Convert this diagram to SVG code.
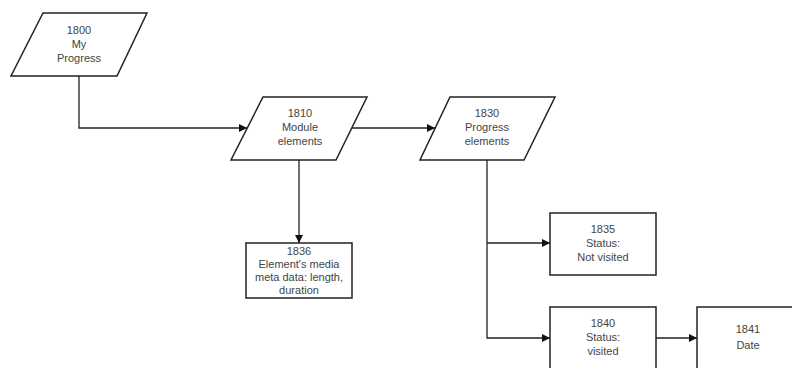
<svg xmlns="http://www.w3.org/2000/svg" width="792" height="368" viewBox="0 0 792 368">
<style>
.shape{fill:#fff;stroke:#222;stroke-width:1.5}
.conn{fill:none;stroke:#222;stroke-width:1.3}
text{font-family:"Liberation Sans",Arial,sans-serif;font-size:11px;fill:#444;text-anchor:middle}
</style>
<defs>
<marker id="arr" viewBox="0 0 10 10" refX="10" refY="5" markerWidth="8" markerHeight="8" markerUnits="userSpaceOnUse" orient="auto">
<path d="M0,0 L10,5 L0,10 z" fill="#111"/>
</marker>
</defs>
<rect width="792" height="368" fill="#fff"/>
<g id="connectors">
<path class="conn" d="M79,76 V128 H247" marker-end="url(#arr)"/>
<path class="conn" d="M352,128 H435" marker-end="url(#arr)"/>
<path class="conn" d="M299,160 V243" marker-end="url(#arr)"/>
<path class="conn" d="M487,160 V338 H550" marker-end="url(#arr)"/>
<path class="conn" d="M487,243 H550" marker-end="url(#arr)"/>
<path class="conn" d="M656,338 H697" marker-end="url(#arr)"/>
</g>
<g id="n1800">
<polygon class="shape" points="43,13 147,13 117,76 11,76"/>
<text x="79" y="34">1800</text>
<text x="79" y="48">My</text>
<text x="79" y="62">Progress</text>
</g>
<g id="n1810">
<polygon class="shape" points="263,97 367,97 336,160 231,160"/>
<text x="300" y="117">1810</text>
<text x="300" y="131">Module</text>
<text x="300" y="145">elements</text>
</g>
<g id="n1830">
<polygon class="shape" points="450,97 555,97 524,160 420,160"/>
<text x="487" y="117">1830</text>
<text x="487" y="131">Progress</text>
<text x="487" y="145">elements</text>
</g>
<g id="n1836">
<rect class="shape" x="246" y="243" width="106" height="55"/>
<text x="299" y="255">1836</text>
<text x="299" y="268">Element's media</text>
<text x="299" y="281">meta data: length,</text>
<text x="299" y="294">duration</text>
</g>
<g id="n1835">
<rect class="shape" x="550" y="213" width="106" height="62"/>
<text x="603" y="233">1835</text>
<text x="603" y="247">Status:</text>
<text x="603" y="261">Not visited</text>
</g>
<g id="n1840">
<rect class="shape" x="550" y="307" width="106" height="70"/>
<text x="603" y="327">1840</text>
<text x="603" y="341">Status:</text>
<text x="603" y="355">visited</text>
</g>
<g id="n1841">
<rect class="shape" x="697" y="307" width="104" height="70"/>
<text x="748" y="333">1841</text>
<text x="748" y="349">Date</text>
</g>
</svg>
